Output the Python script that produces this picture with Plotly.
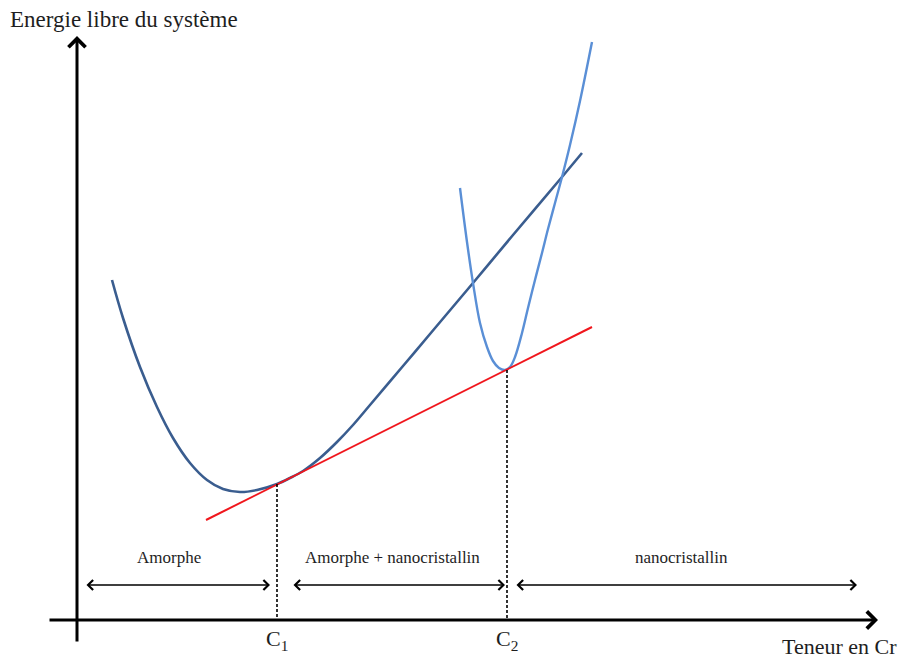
import plotly.graph_objects as go

# Schematic free-energy curves (coordinates in drawing units, y downward)
amorph_x = [112, 123, 140, 157, 173, 190, 207, 223, 240, 257, 277, 290, 303, 320, 337, 353, 370, 403, 430, 473, 513, 562, 582]
amorph_y = [280, 318, 367, 407, 438, 463, 480, 489, 492, 490, 484, 478, 471, 458, 442, 425, 405, 366, 334, 283, 235, 177, 153]

nano_x = [460, 467, 473, 480, 487, 493, 499, 505, 510, 515, 522, 528, 535, 542, 548, 555, 562, 570, 580, 592]
nano_y = [188, 242, 283, 323, 347, 361, 368, 370, 367, 357, 333, 308, 280, 253, 229, 203, 177, 145, 101, 42]

tangent_x = [206, 592]
tangent_y = [520, 327]

c_labels = ["C<sub>1</sub>", "C<sub>2</sub>"]
c_x = [277, 507]
c_y_top = [484, 370]

zone_labels = ["Amorphe", "Amorphe + nanocristallin", "nanocristallin"]
zone_label_x = [169, 392, 681]
zone_start = [85, 292, 515]
zone_end = [270, 505, 857]

axis_x_y = 620
axis_y_x = 77
x_axis_span = [48, 878]
y_axis_span = [643, 36]

y_title = "Energie libre du système"
x_title = "Teneur en Cr"

FONT = "Liberation Serif, Times New Roman, serif"
TXT = "#1e1e1e"

fig = go.Figure()

fig.add_trace(go.Scatter(x=amorph_x, y=amorph_y, mode="lines",
                         line=dict(color="#3A5D8F", width=2.6, shape="spline", smoothing=1.0),
                         hoverinfo="skip"))
fig.add_trace(go.Scatter(x=nano_x, y=nano_y, mode="lines",
                         line=dict(color="#5A8FD6", width=2.4, shape="spline", smoothing=1.0),
                         hoverinfo="skip"))
fig.add_trace(go.Scatter(x=tangent_x, y=tangent_y, mode="lines",
                         line=dict(color="#F0161C", width=2),
                         hoverinfo="skip"))

for cx, cy in zip(c_x, c_y_top):
    fig.add_trace(go.Scatter(x=[cx, cx], y=[cy, axis_x_y], mode="lines",
                             line=dict(color="black", width=1.6, dash="3px,2px"),
                             hoverinfo="skip"))

annotations = []
# axes as arrows
annotations.append(dict(x=x_axis_span[1], y=axis_x_y, ax=x_axis_span[0], ay=axis_x_y,
                        xref="x", yref="y", axref="x", ayref="y", text="",
                        showarrow=True, arrowhead=4, arrowsize=1.1, arrowwidth=3, arrowcolor="black"))
annotations.append(dict(x=axis_y_x, y=y_axis_span[1], ax=axis_y_x, ay=y_axis_span[0],
                        xref="x", yref="y", axref="x", ayref="y", text="",
                        showarrow=True, arrowhead=4, arrowsize=1.1, arrowwidth=3, arrowcolor="black"))

# zone arrows and labels
for lab, lx, s, e in zip(zone_labels, zone_label_x, zone_start, zone_end):
    annotations.append(dict(x=e, y=585, ax=s, ay=585,
                            xref="x", yref="y", axref="x", ayref="y", text="",
                            showarrow=True, arrowhead=4, startarrowhead=4, arrowside="end+start",
                            arrowsize=1.3, startarrowsize=1.3, arrowwidth=1.5, arrowcolor="black"))
    annotations.append(dict(x=lx, y=557, xref="x", yref="y", text=lab,
                            showarrow=False, font=dict(family=FONT, size=17, color=TXT)))

for lab, cx in zip(c_labels, c_x):
    annotations.append(dict(x=cx, y=640, xref="x", yref="y", text=lab, showarrow=False,
                            font=dict(family=FONT, size=22, color=TXT)))

annotations.append(dict(x=8, y=19, xref="x", yref="y", text=y_title, showarrow=False,
                        xanchor="left", font=dict(family=FONT, size=23, color=TXT)))
annotations.append(dict(x=899, y=646, xref="x", yref="y", text=x_title, showarrow=False,
                        xanchor="right", font=dict(family=FONT, size=22, color=TXT)))

fig.update_layout(
    width=901, height=660,
    margin=dict(l=0, r=0, t=0, b=0),
    paper_bgcolor="white", plot_bgcolor="white",
    showlegend=False,
    hovermode=False,
    xaxis=dict(range=[0, 901], visible=False, fixedrange=True),
    yaxis=dict(range=[660, 0], visible=False, fixedrange=True),
    annotations=annotations,
)

fig.write_html("out.html",
               config={"displayModeBar": False, "staticPlot": True},
               post_script="document.body.style.margin='0';document.body.style.overflow='hidden';")
